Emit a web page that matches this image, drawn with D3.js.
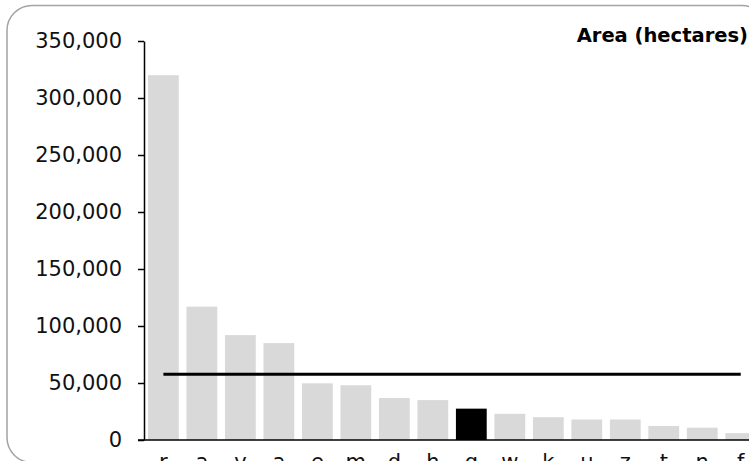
<!DOCTYPE html>
<html>
<head>
<meta charset="utf-8">
<script src="https://cdn.jsdelivr.net/npm/d3@7/dist/d3.min.js"></script>
<style>
    body { margin: 0; overflow: hidden; background: white; }
    #chart-area { width: 749px; height: 461px; overflow: hidden; }
    .axis text { font-family: Verdana, "DejaVu Sans", sans-serif; font-size: 21px; fill: #111; }
    .chart-title { font-family: Verdana, "DejaVu Sans", sans-serif; font-size: 19.5px; font-weight: bold; }
</style>
</head>
<body>
<div id="chart-area"></div>
<script>

// categories (only the tops of the labels show in the picture)
let categories = ['r', 'a', 'v', 'a', 'e', 'm', 'd', 'h', 'g', 'w', 'k', 'u', 'z', 't', 'n', 'f'];

// area in hectares
let areaValues = [320000, 117000, 92000, 85000, 49700, 48000, 36800, 35000, 27500, 23000, 20000, 18000, 18000, 12300, 10800, 6000];

// which bar is highlighted in black
let highlightIndex = 8;

// average line
let averageValue = 57600;

// y tick labels
let yTicks = [0, 50000, 100000, 150000, 200000, 250000, 300000, 350000];

class BarChart {

    constructor(parentElement) {
        this.parentElement = parentElement;
        this.barColors = ['#d9d9d9', '#000000'];
        this.initVis();
    }

    initVis() {
        let vis = this;

        // the picture is cropped on the right and bottom, so the svg is bigger than the window
        vis.svg = d3.select("#" + vis.parentElement).append("svg")
            .attr("width", 790)
            .attr("height", 490);

        // rounded frame
        vis.svg.append("rect")
            .attr("x", 7)
            .attr("y", 5.5)
            .attr("width", 760)
            .attr("height", 457)
            .attr("rx", 25)
            .attr("ry", 25)
            .attr("fill", "none")
            .attr("stroke", "#a3a3a3")
            .attr("stroke-width", 1.5);

        vis.data = categories.map((c, i) => ({name: c, value: areaValues[i], i: i}));

        // scales
        vis.x = d3.scaleBand()
            .domain(d3.range(categories.length))
            .range([144.15, 760])
            .paddingInner(0.2)
            .paddingOuter(0.1);

        vis.y = d3.scaleLinear()
            .domain([0, 350000])
            .range([440, 41]);

        // bars
        vis.svg.selectAll(".bar")
            .data(vis.data)
            .enter()
            .append("rect")
            .attr("class", "bar")
            .attr("x", d => vis.x(d.i))
            .attr("y", d => vis.y(d.value))
            .attr("width", vis.x.bandwidth())
            .attr("height", d => vis.y(0) - vis.y(d.value))
            .attr("fill", d => d.i === highlightIndex ? vis.barColors[1] : vis.barColors[0]);

        // average line, from the centre of the first bar to the centre of the last
        vis.svg.append("line")
            .attr("x1", vis.x(0) + vis.x.bandwidth() / 2)
            .attr("x2", vis.x(categories.length - 1) + vis.x.bandwidth() / 2)
            .attr("y1", vis.y(averageValue))
            .attr("y2", vis.y(averageValue))
            .attr("stroke", "black")
            .attr("stroke-width", 3);

        // y axis
        vis.yAxis = d3.axisLeft(vis.y)
            .tickValues(yTicks)
            .tickFormat(d3.format(","))
            .tickSize(6)
            .tickSizeOuter(0)
            .tickPadding(16);

        vis.svg.append("g")
            .attr("class", "axis y-axis")
            .attr("transform", "translate(144,0)")
            .call(vis.yAxis);

        // x axis
        vis.xAxis = d3.axisBottom(vis.x)
            .tickFormat(i => categories[i])
            .tickSize(0)
            .tickPadding(14.5);

        let xg = vis.svg.append("g")
            .attr("class", "axis x-axis")
            .attr("transform", "translate(0,440)")
            .call(vis.xAxis);
        xg.select(".domain").attr("d", "M138,0H790");

        vis.svg.selectAll(".axis .domain, .axis line")
            .attr("stroke", "black")
            .attr("stroke-width", 1.5);

        // title
        vis.svg.append("text")
            .attr("class", "chart-title")
            .attr("x", 748)
            .attr("y", 42)
            .attr("text-anchor", "end")
            .text("Area (hectares)");
    }
}

new BarChart("chart-area");

</script>
</body>
</html>
